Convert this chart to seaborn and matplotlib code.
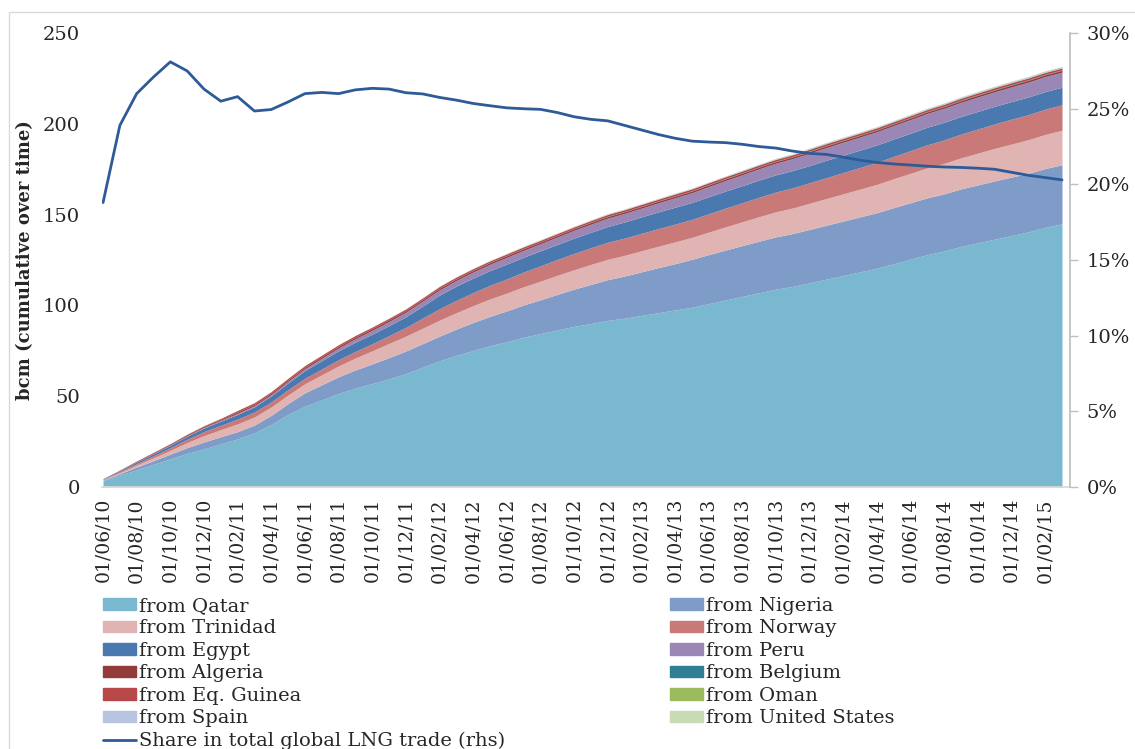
import matplotlib.pyplot as plt
import matplotlib.patches as mpatches
from matplotlib.lines import Line2D
import pandas as pd
import seaborn as sns

# Meses (jun/2010 - mar/2015)
months = pd.date_range('2010-06-01', periods=58, freq='MS')
tick_labels = [d.strftime('%d/%m/%y') for d in months]

# Volumes acumulados por origem (bcm)
qatar = [3.5, 6.5, 9.5, 12.5, 15.5, 18.5, 21.0, 23.8, 26.5, 29.8, 34.5, 40.0, 44.5, 48.0, 51.5,
         54.5, 57.0, 59.5, 62.5, 66.0, 69.5, 72.5, 75.2, 77.8, 80.0, 82.5, 84.5, 86.5, 88.5, 90.0,
         91.8, 93.0, 94.5, 96.0, 97.5, 99.0, 101.0, 103.0, 105.0, 107.0, 109.0, 110.5, 112.5, 114.5,
         116.5, 118.5, 120.5, 123.0, 125.5, 128.0, 130.0, 132.5, 134.5, 136.5, 138.5, 140.5, 143.0, 145.0]
nigeria = [0.3, 0.8, 1.5, 2.0, 2.6, 3.2, 3.8, 3.9, 4.0, 4.3, 5.0, 6.0, 7.4, 8.3, 9.2, 10.0, 10.8,
           11.8, 12.4, 13.0, 13.6, 14.5, 15.4, 16.2, 17.0, 17.8, 18.6, 19.6, 20.5, 21.6, 22.4, 23.2,
           24.0, 24.8, 25.5, 26.4, 27.0, 27.5, 28.0, 28.4, 28.8, 29.1, 29.4, 29.7, 30.0, 30.3, 30.6,
           30.9, 31.1, 31.3, 31.5, 31.7, 31.9, 32.1, 32.2, 32.3, 32.4, 32.5]
trinidad = [0.2, 0.6, 1.1, 1.6, 2.1, 2.8, 3.5, 3.9, 4.3, 4.5, 4.6, 4.7, 5.0, 5.5, 6.0, 6.6, 7.2,
            7.8, 8.2, 8.5, 8.8, 9.0, 9.3, 9.6, 9.8, 10.0, 10.3, 10.5, 10.7, 11.0, 11.2, 11.4, 11.6,
            11.8, 12.0, 12.1, 12.4, 12.8, 13.1, 13.5, 13.8, 14.1, 14.4, 14.7, 15.0, 15.3, 15.6, 15.9,
            16.2, 16.5, 16.8, 17.1, 17.5, 17.9, 18.2, 18.5, 18.8, 19.0]
norway = [0.2, 0.5, 0.8, 1.1, 1.4, 1.8, 2.2, 2.4, 2.6, 2.7, 2.8, 2.9, 3.0, 3.2, 3.4, 3.6, 3.9,
          4.3, 4.8, 5.6, 6.3, 6.8, 7.2, 7.5, 7.8, 8.1, 8.4, 8.7, 9.0, 9.2, 9.4, 9.5, 9.6, 9.7, 9.8,
          9.9, 10.1, 10.3, 10.5, 10.7, 10.9, 11.1, 11.3, 11.5, 11.7, 11.9, 12.1, 12.3, 12.5, 12.7,
          12.9, 13.1, 13.3, 13.5, 13.7, 13.8, 13.9, 14.0]
egypt = [0.2, 0.5, 0.8, 1.1, 1.4, 1.7, 2.0, 2.3, 2.6, 2.9, 3.3, 3.8, 4.3, 4.6, 4.9, 5.1, 5.3,
         5.5, 5.9, 6.6, 7.5, 7.9, 8.0, 8.1, 8.2, 8.2, 8.3, 8.3, 8.4, 8.5, 8.7, 8.9, 9.1, 9.2, 9.3,
         9.3, 9.4, 9.4, 9.4, 9.5, 9.5, 9.5, 9.5, 9.6, 9.6, 9.6, 9.6, 9.6, 9.6, 9.7, 9.7, 9.7, 9.7,
         9.7, 9.7, 9.7, 9.7, 9.7]
peru = [0.0, 0.1, 0.15, 0.2, 0.25, 0.3, 0.4, 0.5, 0.6, 0.65, 0.7, 0.8, 1.0, 1.3, 1.6, 1.9, 2.1,
        2.3, 2.5, 2.7, 2.9, 3.1, 3.3, 3.5, 3.7, 3.8, 3.9, 4.1, 4.3, 4.5, 4.6, 4.7, 4.8, 5.0, 5.2,
        5.4, 5.6, 5.8, 6.0, 6.2, 6.4, 6.6, 6.8, 7.0, 7.1, 7.2, 7.3, 7.4, 7.5, 7.6, 7.7, 7.8, 7.9,
        8.0, 8.1, 8.2, 8.25, 8.3]
algeria = [0.2, 0.3, 0.4, 0.45, 0.5, 0.55, 0.6, 0.65, 0.7, 0.75, 0.8, 0.85, 0.85, 0.85, 0.9,
           0.9, 0.9, 0.9, 0.9, 0.9, 0.9, 0.9, 0.9, 0.9, 0.9, 0.9, 0.9, 0.9, 0.9, 0.9, 0.9, 0.9,
           0.9, 0.9, 0.9, 0.9, 0.9, 0.9, 0.9, 0.9, 0.9, 0.9, 0.9, 0.9, 0.9, 0.9, 0.9, 0.9, 0.9,
           0.9, 0.9, 0.95, 0.95, 0.95, 1.0, 1.0, 1.0, 1.0]
belgium = [0.0, 0.0, 0.0, 0.0, 0.0, 0.0, 0.0, 0.0, 0.0, 0.0, 0.0, 0.0, 0.0, 0.0, 0.0, 0.0, 0.0,
           0.0, 0.0, 0.0, 0.1, 0.1, 0.1, 0.1, 0.1, 0.1, 0.1, 0.1, 0.1, 0.15, 0.15, 0.15, 0.15, 0.15,
           0.2, 0.2, 0.2, 0.2, 0.2, 0.2, 0.2, 0.2, 0.25, 0.25, 0.25, 0.25, 0.25, 0.25, 0.25, 0.25,
           0.3, 0.3, 0.3, 0.3, 0.3, 0.3, 0.3, 0.3]
eq_guinea = [0.0, 0.1, 0.15, 0.2, 0.2, 0.3, 0.3, 0.4, 0.9, 0.9, 0.9, 0.9, 0.9, 0.9, 0.9, 0.9,
             0.9, 0.9, 0.9, 0.9, 0.9, 0.9, 0.9, 0.9, 0.9, 0.9, 0.9, 0.9, 0.9, 0.9, 1.0, 1.0, 1.0,
             1.0, 1.0, 1.0, 1.0, 1.0, 1.0, 1.0, 1.0, 1.0, 1.0, 1.0, 1.0, 1.0, 1.0, 1.0, 1.0, 1.0,
             1.0, 1.0, 1.0, 1.0, 1.0, 1.0, 1.0, 1.0]
oman = [0.0, 0.0, 0.0, 0.0, 0.0, 0.0, 0.0, 0.0, 0.0, 0.0, 0.0, 0.0, 0.0, 0.0, 0.0, 0.0, 0.0, 0.0,
        0.0, 0.0, 0.0, 0.0, 0.0, 0.0, 0.1, 0.1, 0.1, 0.1, 0.1, 0.1, 0.1, 0.1, 0.1, 0.1, 0.1, 0.1,
        0.1, 0.1, 0.1, 0.1, 0.15, 0.15, 0.15, 0.15, 0.15, 0.15, 0.15, 0.15, 0.2, 0.2, 0.2, 0.2,
        0.2, 0.2, 0.2, 0.2, 0.2, 0.2]
spain = [0.0, 0.0, 0.0, 0.0, 0.0, 0.0, 0.0, 0.0, 0.0, 0.0, 0.0, 0.0, 0.0, 0.0, 0.0, 0.0, 0.1,
         0.1, 0.1, 0.1, 0.1, 0.1, 0.2, 0.2, 0.2, 0.2, 0.2, 0.2, 0.2, 0.3, 0.3, 0.3, 0.3, 0.3, 0.3,
         0.3, 0.3, 0.3, 0.35, 0.35, 0.35, 0.35, 0.4, 0.4, 0.4, 0.4, 0.4, 0.4, 0.45, 0.45, 0.45,
         0.45, 0.5, 0.5, 0.5, 0.5, 0.5, 0.5]
usa = [0.0, 0.0, 0.0, 0.0, 0.0, 0.0, 0.0, 0.0, 0.0, 0.1, 0.1, 0.1, 0.1, 0.1, 0.1, 0.1, 0.1, 0.1,
       0.1, 0.1, 0.1, 0.1, 0.1, 0.1, 0.1, 0.1, 0.1, 0.1, 0.1, 0.1, 0.1, 0.1, 0.1, 0.1, 0.1, 0.1,
       0.1, 0.1, 0.1, 0.1, 0.1, 0.15, 0.15, 0.15, 0.15, 0.15, 0.15, 0.15, 0.15, 0.15, 0.2, 0.2,
       0.2, 0.2, 0.2, 0.2, 0.2, 0.2]

# Participação no comércio global de GNL (%)
share = [18.8, 23.9, 26.0, 27.1, 28.1, 27.5, 26.3, 25.5, 25.8, 24.85, 24.95, 25.45, 26.0, 26.08,
         26.0, 26.25, 26.35, 26.3, 26.06, 25.98, 25.75, 25.57, 25.35, 25.2, 25.06, 25.0, 24.96,
         24.75, 24.47, 24.3, 24.2, 23.9, 23.6, 23.3, 23.05, 22.86, 22.8, 22.76, 22.65, 22.5, 22.4,
         22.2, 22.05, 21.98, 21.8, 21.6, 21.45, 21.35, 21.28, 21.2, 21.15, 21.12, 21.07, 21.0,
         20.8, 20.6, 20.45, 20.3]

series = [qatar, nigeria, trinidad, norway, egypt, peru, algeria, belgium, eq_guinea, oman, spain, usa]
labels = ['from Qatar', 'from Nigeria', 'from Trinidad', 'from Norway', 'from Egypt', 'from Peru',
          'from Algeria', 'from Belgium', 'from Eq. Guinea', 'from Oman', 'from Spain',
          'from United States']
colors = ['#7ab8cf', '#7f9cc8', '#dfb4b3', '#c97a78', '#4a79b0', '#9b87b5',
          '#943c3c', '#2f7e94', '#b8474a', '#9bbb5f', '#b7c4e0', '#c8dbb5']
line_color = '#2e5b97'

sns.set_theme(style='white')
plt.rcParams['font.family'] = ['DejaVu Serif']

x = list(range(len(months)))
df_line = pd.DataFrame({'x': x, 'share': share})

fig = plt.figure(figsize=(11.35, 7.49), dpi=100)
ax = fig.add_axes([0.0899, 0.3498, 0.8529, 0.606])

# Áreas empilhadas
ax.stackplot(x, *series, colors=colors, linewidth=0)
ax.set_xlim(-0.06, 57.48)
ax.set_ylim(0, 250)
ax.set_yticks([0, 50, 100, 150, 200, 250])
ax.tick_params(axis='y', labelsize=14, length=0, pad=16)
ax.set_xticks(x[::2])
ax.set_xticklabels(tick_labels[::2], rotation=90, fontsize=13.5)
ax.tick_params(axis='x', length=0, pad=8)
ax.set_ylabel('bcm (cumulative over time)', fontsize=13, fontweight='bold')
ax.yaxis.set_label_coords(-68 / 968, 0.5)
for s in ['top', 'left', 'right']:
    ax.spines[s].set_visible(False)
ax.spines['bottom'].set_color('#d9d9d9')

# Linha no eixo secundário
ax2 = ax.twinx()
sns.lineplot(data=df_line, x='x', y='share', ax=ax2, color=line_color, linewidth=2.0)
ax2.set_ylim(0, 30)
ax2.set_yticks([0, 5, 10, 15, 20, 25, 30])
ax2.set_yticklabels([f'{v}%' for v in [0, 5, 10, 15, 20, 25, 30]])
ax2.tick_params(axis='y', labelsize=14, length=6, width=1, color='#bfbfbf', pad=6)
ax2.set_ylabel('')
ax2.set_xlabel('')
for s in ['top', 'left', 'bottom']:
    ax2.spines[s].set_visible(False)
ax2.spines['right'].set_color('#bfbfbf')
ax.set_xlabel('')

# Moldura externa
fig.patches.append(mpatches.Rectangle((9 / 1135, -0.05), 1.2, 1 - 12 / 749 + 0.05,
                                      transform=fig.transFigure, fill=False,
                                      edgecolor='#d9d9d9', linewidth=1))

# Legenda em duas colunas (ordem por linha)
patches = [mpatches.Patch(color=c, label=l) for c, l in zip(colors, labels)]
share_handle = Line2D([], [], color=line_color, linewidth=2, label='Share in total global LNG trade (rhs)')
left_col = patches[0::2] + [share_handle]
right_col = patches[1::2]
fig.legend(handles=left_col + right_col, loc='upper left', ncol=2,
           bbox_to_anchor=(103 / 1135, 1 - 597 / 749), frameon=False, fontsize=14,
           handlelength=1.7, handleheight=0.55, handletextpad=0.15, labelspacing=0.23,
           columnspacing=8.5, borderaxespad=0, borderpad=0)

fig.savefig('out.png', dpi=100)
